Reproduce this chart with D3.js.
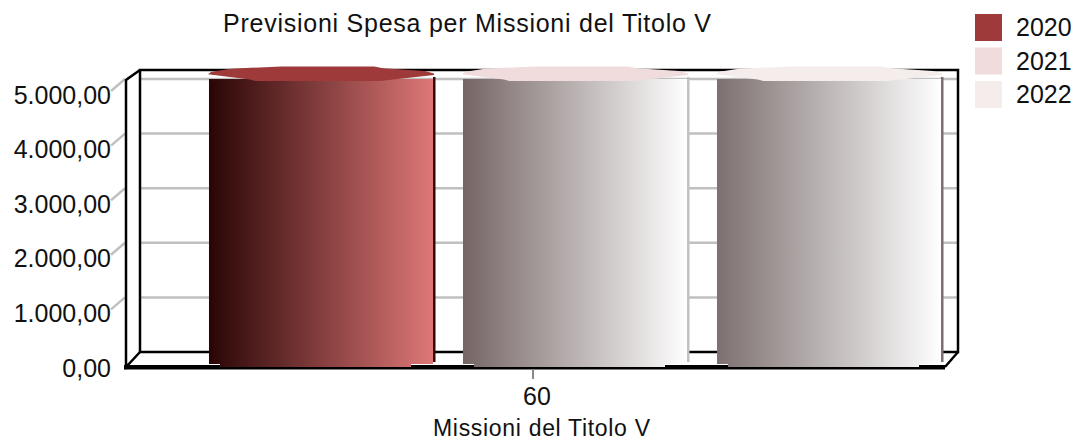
<!DOCTYPE html>
<html>
<head>
<meta charset="utf-8">
<script src="https://cdn.jsdelivr.net/npm/d3@7"></script>
<style>
  html, body { margin: 0; padding: 0; background: #fff; }
  text { font-family: "Liberation Sans", Arial, sans-serif; fill: #111; }
</style>
</head>
<body>
<div id="chart"></div>
<script>
const categories = ["60"];
const years = ["2020", "2021", "2022"];
const values = [5230, 5230, 5230];
const yTicks = [0, 1000, 2000, 3000, 4000, 5000];
const seriesColors = ["#9e3a3a", "#f0dcdc", "#f5ecec"];
const gradientLeft = ["#2a0505", "#756565", "#7d7070"];
const gradientRight = ["#de7777", "#ffffff", "#ffffff"];
const edgeColors = ["#3a0808", "#c4c0c0", "#7a6f6f"];

const width = 1076, height = 441;
const depth = 15;

const svg = d3.select("#chart")
    .append("svg")
    .attr("width", width)
    .attr("height", height)
    .style("display", "block");

const y = d3.scaleLinear().domain([0, 5000]).range([352, 79]);

const xOuter = d3.scaleBand().domain(categories).range([126, 940]);

const xBar = d3.scaleBand()
    .domain(years)
    .range([194, 956])
    .paddingInner(0.118)
    .paddingOuter(0.059);

const defs = svg.append("defs");
years.forEach((yr, i) => {
    const g = defs.append("linearGradient").attr("id", "grad" + yr);
    g.append("stop").attr("offset", "0%").attr("stop-color", gradientLeft[i]);
    g.append("stop").attr("offset", "100%").attr("stop-color", gradientRight[i]);
});

//Gridlines on the back wall and stubs towards the labels
const grid = svg.append("g").attr("stroke", "#c0c0c0").attr("stroke-width", 2.5);
grid.selectAll("line.back")
    .data(yTicks.slice(1))
    .enter()
    .append("line")
    .attr("class", "back")
    .attr("x1", 140)
    .attr("x2", 958)
    .attr("y1", d => y(d))
    .attr("y2", d => y(d));
grid.selectAll("line.stub")
    .data(yTicks.slice(1))
    .enter()
    .append("line")
    .attr("class", "stub")
    .attr("x1", 111)
    .attr("x2", 125)
    .attr("y1", d => y(d) + 12)
    .attr("y2", d => y(d));

//Box frame
const frame = svg.append("g")
    .attr("stroke", "#000")
    .attr("stroke-width", 2.5)
    .attr("fill", "none");
frame.append("path").attr("d", "M140,70V352H958V70Z");
frame.append("path").attr("d", "M140,70L126,80V367L140,352");
frame.append("path").attr("d", "M958,352L945,367");

//Bottom axis, thicker between the bars
svg.append("rect").attr("x", 124).attr("y", 365).attr("width", 821).attr("height", 4.5).attr("fill", "#000");

//Bars
const capShape = [
    [-1, 0.05], [-0.97, -0.3], [-0.8, -0.7], [-0.35, -1], [0.47, -1], [0.55, -0.75],
    [0.92, -0.4], [1, -0.05], [1, 0.15], [0.52, 0.95], [-0.58, 0.95], [-0.63, 0.75]
];
const capLine = d3.line();

const bars = svg.selectAll("g.bar")
    .data(years)
    .enter()
    .append("g")
    .attr("class", "bar");

bars.each(function (yr, i) {
    const g = d3.select(this);
    const x0 = xBar(yr);
    const bw = xBar.bandwidth();
    const x1 = x0 + bw;
    const base = y(0) + depth;
    const cy = y(values[i]) + depth / 2;

    g.append("rect")
        .attr("x", x1)
        .attr("y", cy + 3)
        .attr("width", 2.5)
        .attr("height", base - cy - 8)
        .attr("fill", edgeColors[i]);

    g.append("path")
        .attr("d", `M${x0},${cy + 5}V${base - 3}H${x0 + 11}V${base}H${x1 - 22}V${base - 3}H${x1}V${cy + 5}Z`)
        .attr("fill", `url(#grad${yr})`);

    g.append("rect")
        .attr("x", x0 + 46)
        .attr("y", cy + 5)
        .attr("width", 125)
        .attr("height", 2)
        .attr("fill", "#fff");

    g.append("path")
        .attr("d", capLine(capShape.map(p => [x0 + bw / 2 + p[0] * (bw / 2 + 1), cy + p[1] * (depth / 2)])))
        .attr("fill", seriesColors[i]);
});

//Y axis
const fmt = d3.formatLocale({ decimal: ",", thousands: ".", grouping: [3], currency: ["", ""] }).format(",.2f");
const yAxis = svg.append("g")
    .attr("transform", `translate(126,${depth})`)
    .call(d3.axisLeft(y).tickValues(yTicks).tickFormat(fmt).tickSize(0).tickPadding(15));
yAxis.select(".domain").remove();
yAxis.selectAll("text")
    .style("font-size", "25px")
    .style("font-family", '"Liberation Sans", Arial, sans-serif')
    .attr("dy", "0.36em");

//X axis
const xAxis = svg.append("g")
    .attr("transform", "translate(0,369)")
    .call(d3.axisBottom(xOuter).tickSize(10).tickPadding(8));
xAxis.select(".domain").remove();
xAxis.selectAll("line").attr("stroke", "#888").attr("stroke-width", 2);
xAxis.selectAll("text")
    .style("font-size", "25px")
    .style("font-family", '"Liberation Sans", Arial, sans-serif')
    .attr("dx", 4);

//Titles
svg.append("text")
    .attr("x", 223)
    .attr("y", 32)
    .attr("textLength", 488)
    .style("font-size", "25px")
    .text("Previsioni Spesa per Missioni del Titolo V");

svg.append("text")
    .attr("x", 433)
    .attr("y", 436)
    .attr("textLength", 217)
    .style("font-size", "23px")
    .text("Missioni del Titolo V");

//Legend
const legend = svg.selectAll("g.legend")
    .data(years)
    .enter()
    .append("g")
    .attr("class", "legend");
const legendY = d3.scalePoint().domain(years).range([14, 81]);
legend.append("rect")
    .attr("x", 975)
    .attr("y", d => legendY(d))
    .attr("width", 27)
    .attr("height", 27)
    .attr("fill", (d, i) => seriesColors[i]);
legend.append("text")
    .attr("x", 1016)
    .attr("y", d => legendY(d) + 22)
    .style("font-size", "25px")
    .text(d => d);
</script>
</body>
</html>
